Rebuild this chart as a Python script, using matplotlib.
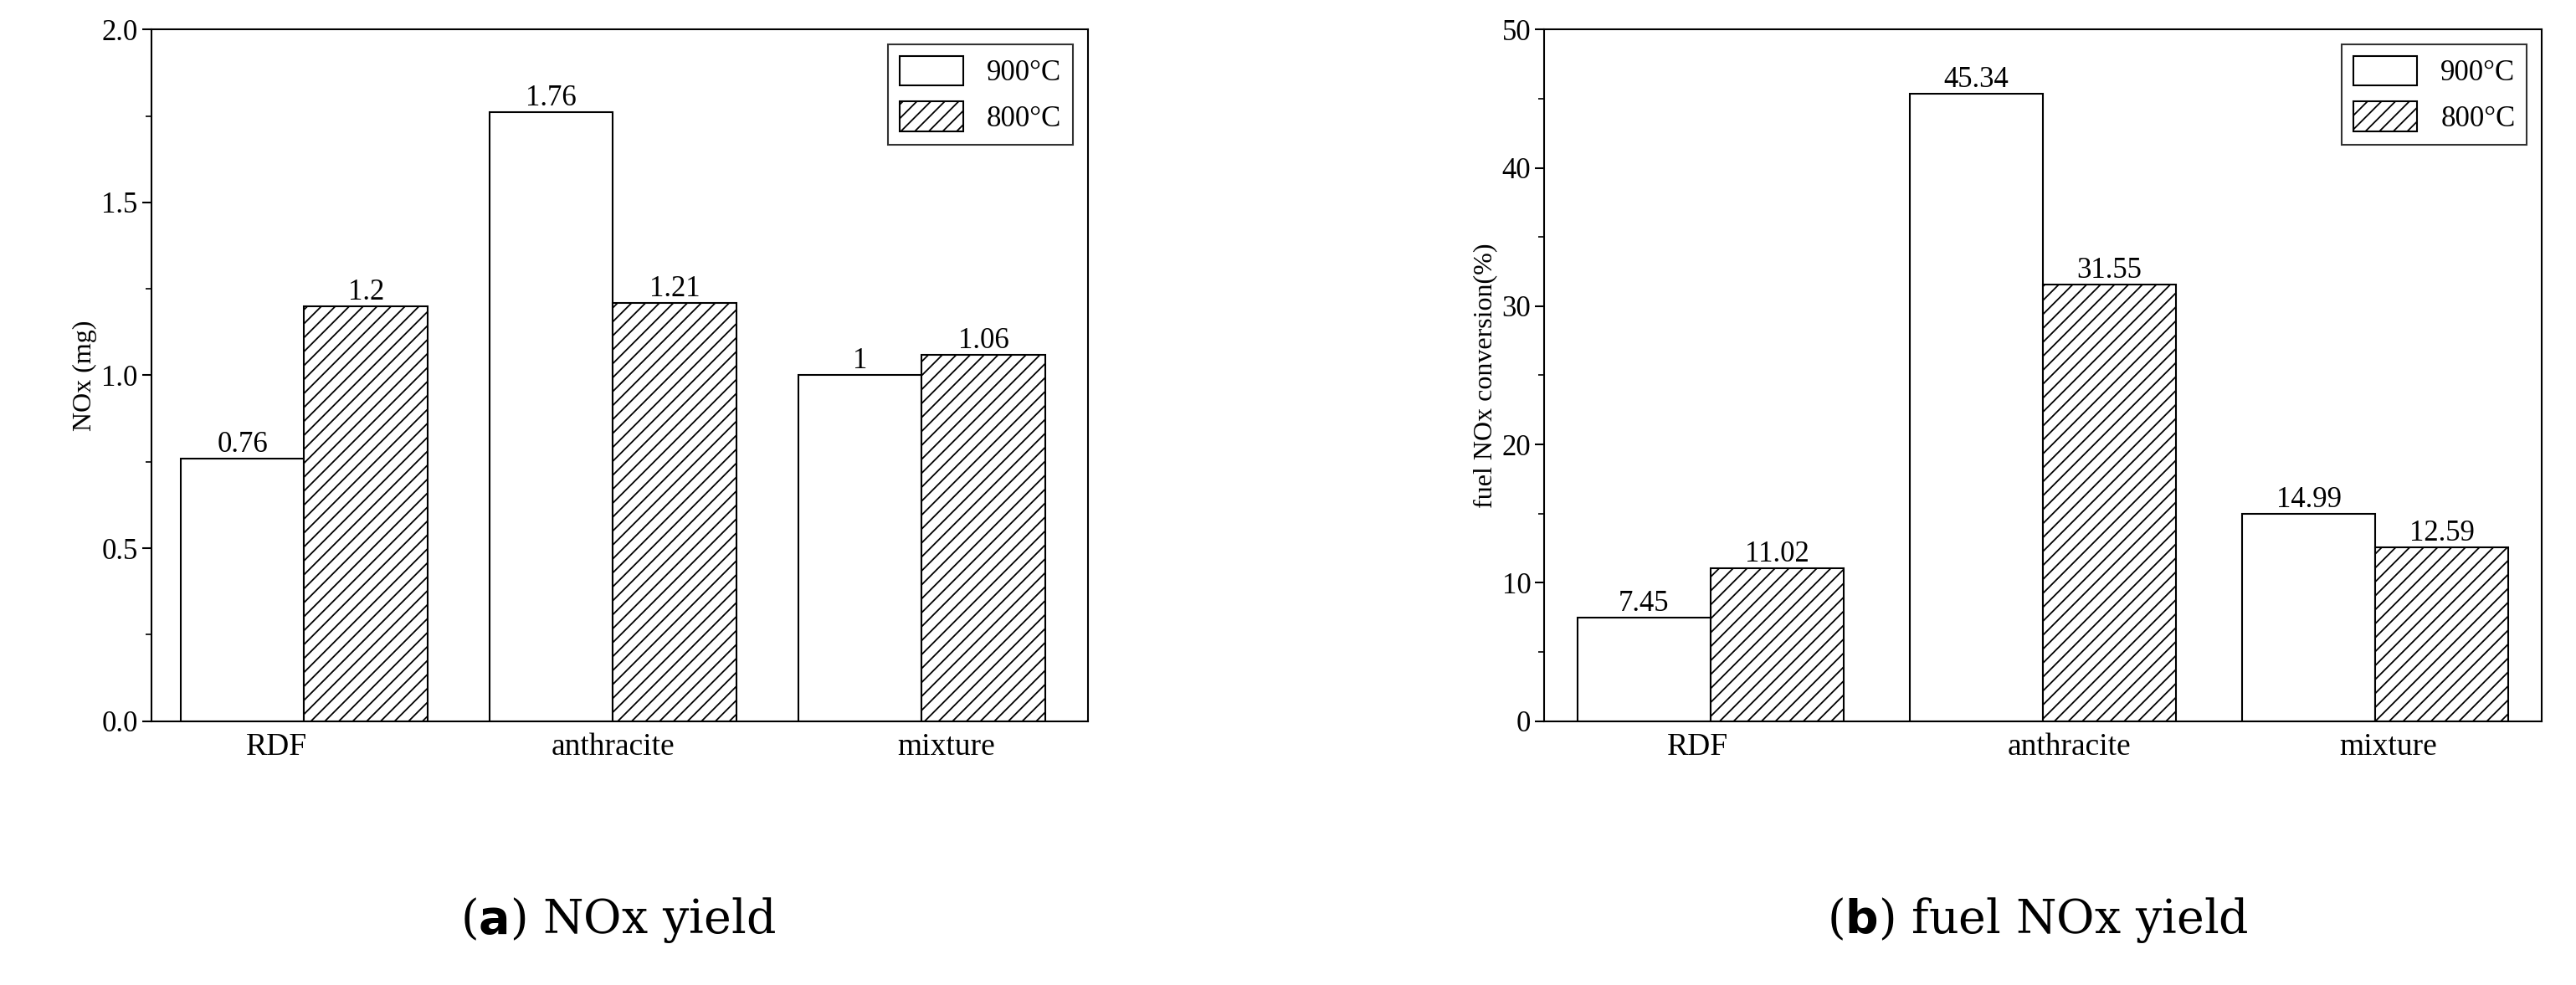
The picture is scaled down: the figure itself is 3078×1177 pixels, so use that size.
import matplotlib
matplotlib.use("Agg")
import matplotlib.pyplot as plt
from matplotlib.ticker import AutoMinorLocator

plt.rcParams['font.family'] = ['Liberation Serif', 'DejaVu Serif']
plt.rcParams['hatch.linewidth'] = 1.3

categories = ['RDF', 'anthracite', 'mixture']
series = ['900°C', '800°C']
nox_900 = [0.76, 1.76, 1.0]
nox_800 = [1.2, 1.21, 1.06]
nox_labels_900 = ['0.76', '1.76', '1']
nox_labels_800 = ['1.2', '1.21', '1.06']
conv_900 = [7.45, 45.34, 14.99]
conv_800 = [11.02, 31.55, 12.59]
conv_labels_900 = ['7.45', '45.34', '14.99']
conv_labels_800 = ['11.02', '31.55', '12.59']

fig = plt.figure(figsize=(30.78, 11.77), dpi=100)
axL = fig.add_axes([0.0587, 0.268, 0.3635, 0.702])
axR = fig.add_axes([0.5995, 0.268, 0.3871, 0.702])

fs = 25

def draw(ax, pos, w, v9, v8, l9, l8, ylim, yticks, ylabel, yfmt, xlim, label_pos):
    b1 = ax.bar([p - w/2 for p in pos], v9, w, facecolor='white', edgecolor='black', lw=1.5, label=series[0])
    b2 = ax.bar([p + w/2 for p in pos], v8, w, facecolor='white', edgecolor='black', lw=1.5, hatch='//', label=series[1])
    for b, t in zip(b1, l9):
        ax.text(b.get_x() + b.get_width()/2, b.get_height(), t, ha='center', va='bottom', fontsize=fs)
    for b, t in zip(b2, l8):
        ax.text(b.get_x() + b.get_width()/2, b.get_height(), t, ha='center', va='bottom', fontsize=fs)
    ax.set_ylim(*ylim)
    ax.set_yticks(yticks)
    ax.set_yticklabels([yfmt.format(y) for y in yticks], fontsize=fs)
    ax.yaxis.set_minor_locator(AutoMinorLocator(2))
    ax.set_xlim(*xlim)
    ax.set_xticks(label_pos)
    ax.set_xticklabels(categories, fontsize=fs + 2)
    ax.tick_params(axis='x', length=0, pad=10)
    ax.tick_params(axis='y', which='major', direction='out', length=8, width=1.5)
    ax.tick_params(axis='y', which='minor', direction='out', length=5, width=1.2)
    ax.set_ylabel(ylabel, fontsize=fs - 2)
    for s in ax.spines.values():
        s.set_linewidth(1.5)
    leg = ax.legend(loc='upper right', fontsize=fs, frameon=True, fancybox=False,
                    edgecolor='black', handlelength=2.2, handleheight=1.2, borderaxespad=0.5)
    leg.get_frame().set_linewidth(1.5)

draw(axL, [0, 1, 2], 0.4, nox_900, nox_800, nox_labels_900, nox_labels_800,
     (0, 2.0), [0.0, 0.5, 1.0, 1.5, 2.0], 'NOx (mg)', '{:.1f}', (-0.495, 2.537), [-0.09, 1.0, 2.08])
draw(axR, [0, 1, 2], 0.4, conv_900, conv_800, conv_labels_900, conv_labels_800,
     (0, 50), [0, 10, 20, 30, 40, 50], 'fuel NOx conversion(%)', '{:d}', (-0.5, 2.5), [-0.04, 1.08, 2.04])

fig.text(0.24, 0.053, r'($\mathbf{a}$) NOx yield', ha='center', fontsize=40, family='DejaVu Serif')
fig.text(0.791, 0.053, r'($\mathbf{b}$) fuel NOx yield', ha='center', fontsize=40, family='DejaVu Serif')

fig.savefig('out.png', dpi=100)
